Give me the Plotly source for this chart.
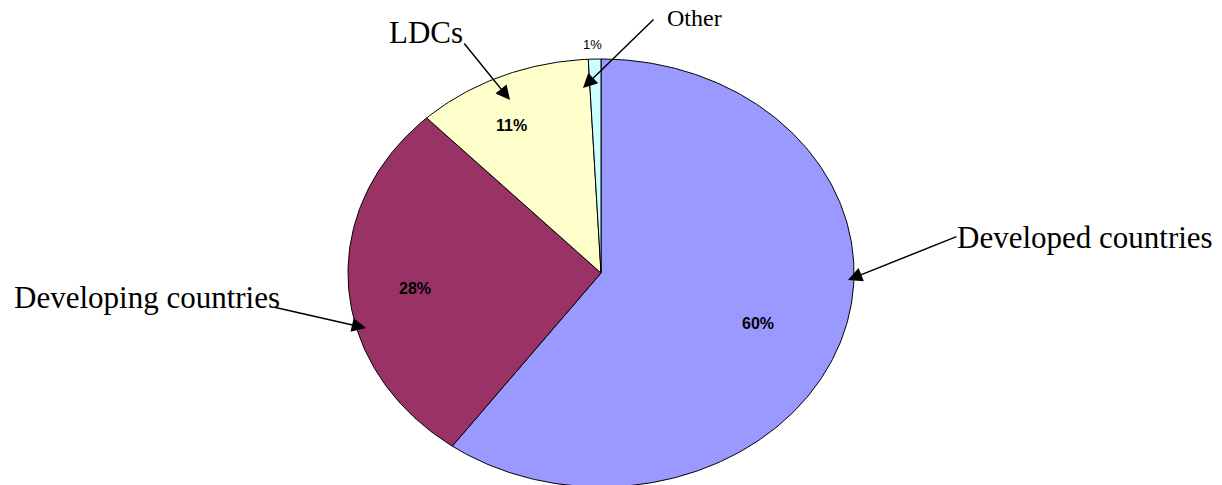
import numpy as np
import plotly.graph_objects as go

# ---- data ----
categories = ["Developed countries", "Developing countries", "LDCs", "Other"]
values = [60.0, 27.9, 11.3, 0.8]
pct_labels = ["60%", "28%", "11%", "1%"]
colors = ["#9999FF", "#993366", "#FFFFCC", "#CCFFFF"]

# ---- layout geometry (pixel space) ----
W, H = 1222, 485
cx, cy, rx, ry = 601, 273, 253, 214

fig = go.Figure()

total = sum(values)
start = 0.0
for name, v, col in zip(categories, values, colors):
    a0 = start / total * 2 * np.pi
    a1 = (start + v) / total * 2 * np.pi
    n = max(8, int(400 * v / total))
    th = np.linspace(a0, a1, n)
    xs = np.concatenate([[cx], cx + rx * np.sin(th), [cx]])
    ys = np.concatenate([[cy], cy - ry * np.cos(th), [cy]])
    fig.add_trace(go.Scatter(x=xs, y=ys, mode="lines", fill="toself",
                             fillcolor=col, line=dict(color="black", width=1),
                             name=name, hoverinfo="name", showlegend=False))
    start += v

# percentage labels
pct_pos = [(758, 323), (415, 288), (511, 125), (592, 44)]
for i, (lab, (px, py)) in enumerate(zip(pct_labels, pct_pos)):
    bold = i < 3
    fig.add_annotation(x=px, y=py, text=f"<b>{lab}</b>" if bold else lab,
                       showarrow=False, xanchor="center", yanchor="middle",
                       font=dict(family="Liberation Sans, Arial", size=16 if bold else 13,
                                 color="black"))

# category text labels (left x, baseline y, font size)
serif = "Liberation Serif, Times New Roman, serif"
text_pos = {
    "Developed countries": (955, 250, 31),
    "Developing countries": (12, 310, 31),
    "LDCs": (387, 45, 31),
    "Other": (665, 28, 24),
}
for name, (tx, ty, fs) in text_pos.items():
    fig.add_annotation(x=tx, y=ty + 0.22 * fs, text=name, showarrow=False,
                       xanchor="left", yanchor="bottom",
                       font=dict(family=serif, size=fs, color="black"))

# arrows: (head x, head y, tail x, tail y)
arrows = [
    (848, 280, 958, 236),
    (366, 328, 273, 307),
    (510, 100, 463, 42),
    (583, 88, 655, 18),
]
for hx, hy, tx, ty in arrows:
    fig.add_annotation(x=hx, y=hy, ax=tx, ay=ty, xref="x", yref="y",
                       axref="x", ayref="y", text="", showarrow=True,
                       arrowhead=2, arrowsize=1.9, arrowwidth=1.5,
                       arrowcolor="black")

fig.update_layout(
    width=W, height=H,
    margin=dict(l=0, r=0, t=0, b=0),
    paper_bgcolor="white", plot_bgcolor="white",
    xaxis=dict(range=[0, W], visible=False, fixedrange=True),
    yaxis=dict(range=[H, 0], visible=False, fixedrange=True),
    showlegend=False,
)

fig.write_html("out.html", config={"displayModeBar": False},
               post_script="document.body.style.margin='0';document.body.style.overflow='hidden';")
